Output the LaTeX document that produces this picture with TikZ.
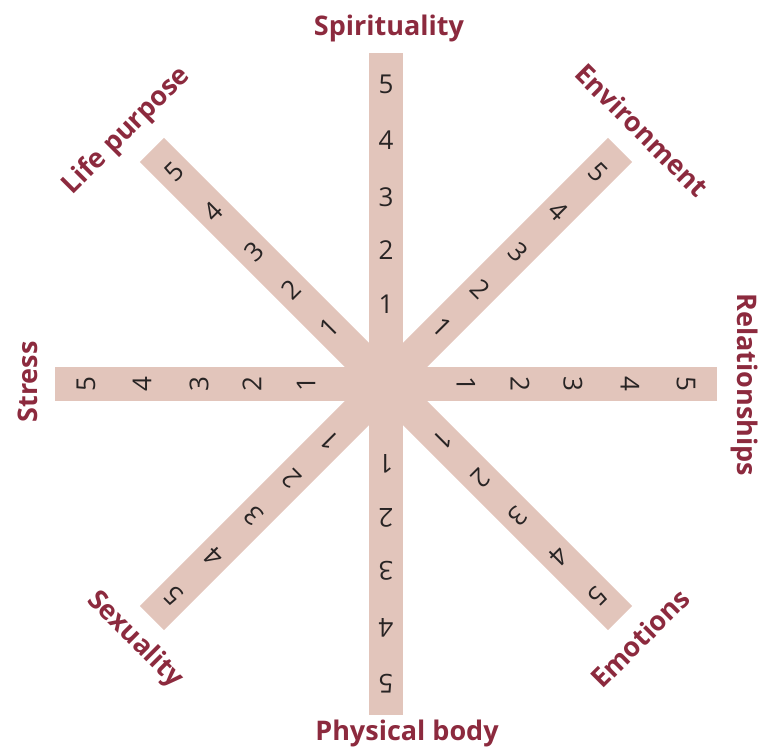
\documentclass[tikz,border=0pt]{standalone}
\usepackage{fontspec}
\setmainfont{Open Sans}
\usetikzlibrary{calc}
\definecolor{barcol}{RGB}{226,197,187}
\definecolor{labcol}{RGB}{140,42,62}
\definecolor{digcol}{RGB}{40,36,36}
\tikzset{
  barline/.style={draw=barcol, line width=34pt, line cap=butt},
  digit/.style={font=\fontsize{26}{26}\selectfont, text=digcol, inner sep=0pt},
  lab/.style={font=\fontsize{27}{27}\selectfont\bfseries, text=labcol, inner sep=0pt}
}
\begin{document}
\begin{tikzpicture}[x=1pt,y=1pt]
\useasboundingbox (0,0) rectangle (763,-755);
\coordinate (c) at (386,-384);
% bars
\foreach \a in {0,45,90,135}{
  \draw[barline] ($(c)+(\a:331)$) -- ($(c)+(\a+180:331)$);
}
% digits
\foreach \a in {0,45,90,135,180,225,270,315}{
  \foreach \n/\d in {1/80,2/134,3/187,4/244,5/300}{
    \pgfmathsetmacro{\r}{\a-90}
    \node[digit, rotate=\r] (d\a-\n) at ($(c)+(\a:\d)$) {\n};
  }
}
% labels
\node[lab, anchor=base] (spi) at (389,-35) {Spirituality};
\node[lab, anchor=base] (phy) at (407,-740) {Physical body};
\node[lab, anchor=base, rotate=90] (str) at (37,-382) {Stress};
\node[lab, anchor=base, rotate=-90] (rel) at (737,-385) {Relationships};
\node[lab, rotate=45] (lif) at (127,-131) {Life purpose};
\node[lab, rotate=-45] (env) at (642,-130) {Environment};
\node[lab, rotate=-45] (sex) at (135,-640) {Sexuality};
\node[lab, rotate=45] (emo) at (640,-638) {Emotions};
\end{tikzpicture}
\end{document}
